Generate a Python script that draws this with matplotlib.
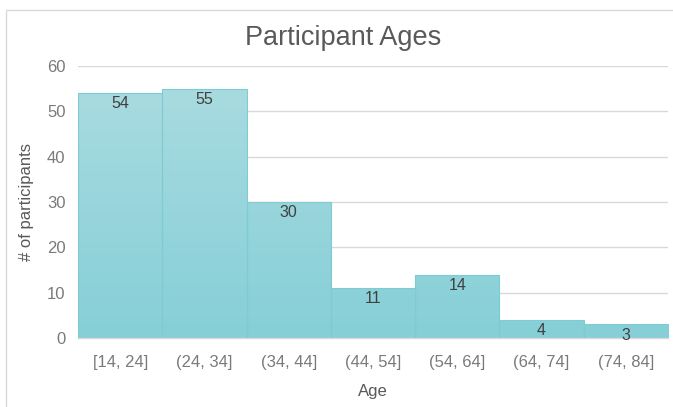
import matplotlib
matplotlib.use("Agg")
import matplotlib.pyplot as plt
import numpy as np
from matplotlib.colors import LinearSegmentedColormap
from matplotlib.patches import Rectangle

plt.rcParams["font.family"] = ["Liberation Sans", "DejaVu Sans"]

bins = ["[14, 24]", "(24, 34]", "(34, 44]", "(44, 54]", "(54, 64]", "(64, 74]", "(74, 84]"]
counts = [54, 55, 30, 11, 14, 4, 3]
yticks = [0, 10, 20, 30, 40, 50, 60]

fig = plt.figure(figsize=(6.73, 4.07), dpi=100)
ax = fig.add_axes([78 / 673, 1 - 338 / 407, 590 / 673, 272 / 407])

# chart border (runs off the right/bottom edges)
fig.add_artist(Rectangle((6 / 673, -0.1), 1.2, 1 - 10 / 407 + 0.1,
                         transform=fig.transFigure, fill=False,
                         edgecolor="#d9d9d9", linewidth=1.0))

x = np.arange(len(bins))
bars = ax.bar(x, counts, width=1.0, color="none", edgecolor="#7fcbd3",
              linewidth=0.8, zorder=3)

# vertical gradient, light at the top of the axis, darker at the bottom
cmap = LinearSegmentedColormap.from_list("teal", ["#86cfd7", "#abdce1"])
grad = np.linspace(0, 1, 256).reshape(-1, 1)
for b in bars:
    im = ax.imshow(grad, cmap=cmap, origin="lower", aspect="auto",
                   extent=[-0.5, len(bins) - 0.5, 0, 60], zorder=2)
    im.set_clip_path(b)

for xi, c in zip(x, counts):
    ax.text(xi, c - 0.7, str(c), ha="center", va="top", fontsize=11.5,
            color="#404040", zorder=4)

ax.set_xlim(-0.5, len(bins) - 0.5)
ax.set_ylim(0, 60)
ax.set_yticks(yticks)
ax.set_xticks(x)
ax.set_xticklabels(bins)
ax.yaxis.grid(True, color="#d9d9d9", linewidth=1.0, zorder=0)
ax.set_axisbelow(True)
for s in ["top", "right", "left"]:
    ax.spines[s].set_visible(False)
ax.spines["bottom"].set_color("#d9d9d9")
ax.spines["bottom"].set_linewidth(1.0)
ax.tick_params(axis="both", length=0, labelsize=12, colors="#7a7a7a")
ax.tick_params(axis="x", pad=12)
ax.tick_params(axis="y", pad=9)

ax.set_xlabel("Age", fontsize=12, color="#595959", labelpad=10)
ax.set_ylabel("# of participants", fontsize=12, color="#595959", labelpad=9)
fig.text(343 / 673, 1 - 38 / 407, "Participant Ages", ha="center", va="center",
         fontsize=19.5, color="#595959")

fig.savefig("out.png", dpi=100)
